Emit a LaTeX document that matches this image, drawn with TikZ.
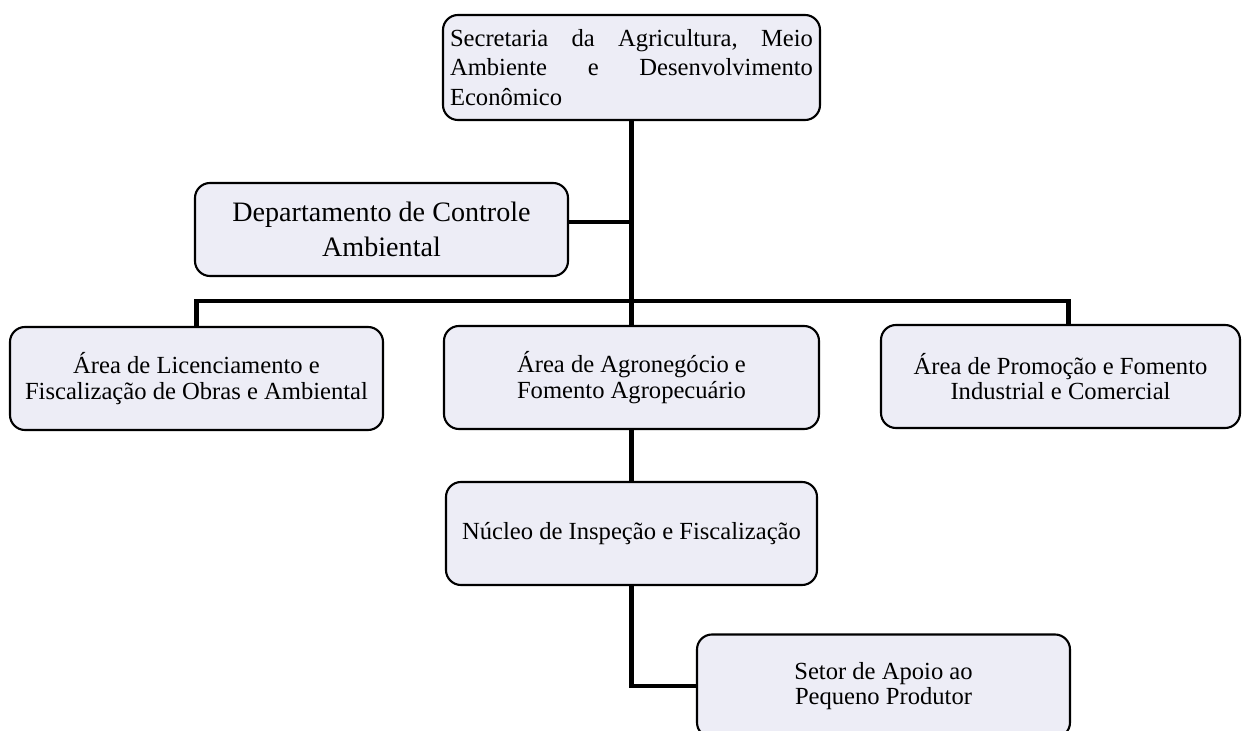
\documentclass[tikz,border=0pt]{standalone}
\usepackage{fontspec}
\setmainfont{Liberation Serif}
\definecolor{boxfill}{RGB}{237,237,246}
\begin{document}
\begin{tikzpicture}[x=1cm, y=1cm]
\useasboundingbox (0,0) rectangle (24.94,-14.62);
\tikzset{every node/.style={draw=black, line width=1.2pt, rounded corners=0.3cm, fill=boxfill, align=center, inner sep=0pt, minimum width=7.46cm, minimum height=2.06cm, font=\fontsize{14}{14.5}\selectfont}}
\node (sec) [minimum width=7.54cm, minimum height=2.1cm, align=left, font=\fontsize{14}{16.8}\selectfont] at (12.63,-1.35) {\hbox to 7.26cm{Secretaria\hfill da\hfill Agricultura,\hfill Meio}\\ \hbox to 7.26cm{Ambiente\hfill e\hfill Desenvolvimento}\\ \hbox to 7.26cm{Econômico\hfill}};
\node (dep) [minimum height=1.86cm, font=\fontsize{16}{19.5}\selectfont] at (7.63,-4.59) {Departamento de Controle\\ Ambiental};
\node (lic) at (3.93,-7.57) {Área de Licenciamento e\\ Fiscalização de Obras e Ambiental};
\node (agr) [minimum width=7.5cm] at (12.63,-7.55) {Área de Agronegócio e\\ Fomento Agropecuário};
\node (pro) [minimum width=7.18cm] at (21.21,-7.53) {Área de Promoção e Fomento\\ Industrial e Comercial};
\node (nuc) [minimum width=7.42cm] at (12.63,-10.67) {Núcleo de Inspeção e Fiscalização};
\node (sap) at (17.67,-13.72) {Setor de Apoio ao\\ Pequeno Produtor};

\tikzset{every node/.style={}};
\tikzset{mystyle/.style={-,line width=2.8pt}};
\coordinate (hub) at (12.63,-6.02);
\coordinate (depjoin) at (12.63,-4.44);
\coordinate (projoin) at (21.37,-6.02);
\draw [mystyle] (sec.south) -- (hub);
\draw [mystyle] (depjoin -| dep.east) -- (depjoin);
\draw [mystyle] (lic.north) |- (hub) -- (projoin) -- (projoin |- pro.north);
\draw [mystyle] (hub) -- (agr.north);
\draw [mystyle] (agr.south) -- (nuc.north);
\draw [mystyle] (nuc.south) |- (sap.west);
\end{tikzpicture}
\end{document}
